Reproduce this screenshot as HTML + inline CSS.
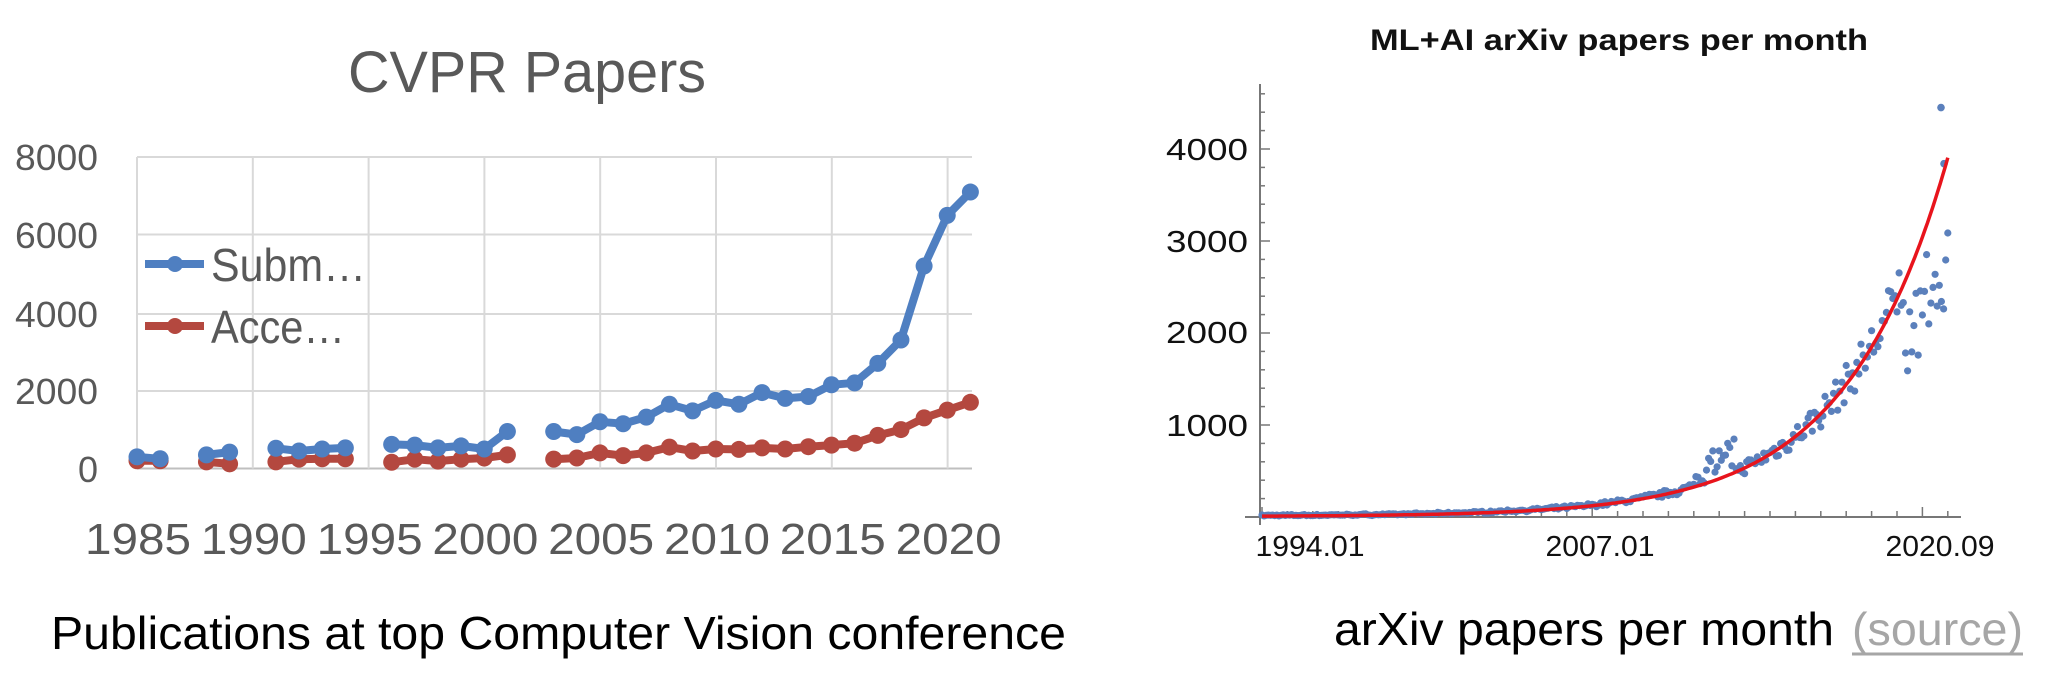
<!DOCTYPE html>
<html><head><meta charset="utf-8">
<style>
html,body{margin:0;padding:0;background:#fff;}
svg{display:block;}
text{font-family:"Liberation Sans",sans-serif;}
</style></head>
<body>
<svg id="s" width="2068" height="690" viewBox="0 0 2068 690" xmlns="http://www.w3.org/2000/svg">
<rect width="2068" height="690" fill="#fff"/>
<text x="527" y="92" font-size="58" fill="#595959" text-anchor="middle" textLength="358" lengthAdjust="spacingAndGlyphs">CVPR Papers</text>
<g id="grid" stroke="#d9d9d9" stroke-width="2"></g>
<g font-size="36" fill="#595959" text-anchor="end">
<text x="98" y="170" textLength="83" lengthAdjust="spacingAndGlyphs">8000</text>
<text x="98" y="248" textLength="83" lengthAdjust="spacingAndGlyphs">6000</text>
<text x="98" y="327" textLength="83" lengthAdjust="spacingAndGlyphs">4000</text>
<text x="98" y="404" textLength="83" lengthAdjust="spacingAndGlyphs">2000</text>
<text x="98" y="482">0</text>
</g>
<g id="xl" font-size="44" fill="#595959" text-anchor="middle"></g>
<g id="series"></g>
<line x1="145" y1="264" x2="204" y2="264" stroke="#4f7fc1" stroke-width="8"/>
<circle cx="175" cy="264" r="8" fill="#4f7fc1"/>
<line x1="145" y1="326" x2="204" y2="326" stroke="#b4483f" stroke-width="8"/>
<circle cx="175" cy="326" r="8" fill="#b4483f"/>
<text x="211" y="281" font-size="46" fill="#595959" textLength="155" lengthAdjust="spacingAndGlyphs">Subm…</text>
<text x="211" y="343" font-size="46" fill="#595959" textLength="134" lengthAdjust="spacingAndGlyphs">Acce…</text>
<text x="51" y="649" font-size="46" fill="#000" textLength="1015" lengthAdjust="spacingAndGlyphs">Publications at top Computer Vision conference</text>

<text x="1619" y="50" font-size="30" font-weight="bold" fill="#111" text-anchor="middle" textLength="498" lengthAdjust="spacingAndGlyphs">ML+AI arXiv papers per month</text>
<g id="rax" stroke="#777" stroke-width="2"></g>
<g font-size="31" fill="#111" text-anchor="end">
<text x="1248" y="160" textLength="82" lengthAdjust="spacingAndGlyphs">4000</text>
<text x="1248" y="252" textLength="82" lengthAdjust="spacingAndGlyphs">3000</text>
<text x="1248" y="343" textLength="82" lengthAdjust="spacingAndGlyphs">2000</text>
<text x="1248" y="436" textLength="82" lengthAdjust="spacingAndGlyphs">1000</text>
</g>
<g font-size="29" fill="#111" text-anchor="middle">
<text x="1310" y="556" textLength="109" lengthAdjust="spacingAndGlyphs">1994.01</text>
<text x="1600" y="556" textLength="109" lengthAdjust="spacingAndGlyphs">2007.01</text>
<text x="1940" y="556" textLength="109" lengthAdjust="spacingAndGlyphs">2020.09</text>
</g>
<g id="pts" fill="#5b80bc"></g>
<path id="fit" fill="none" stroke="#e8141c" stroke-width="3.5"/>
<text x="1334" y="645" font-size="46" fill="#000" textLength="500" lengthAdjust="spacingAndGlyphs">arXiv papers per month</text>
<text x="1852" y="645" font-size="46" fill="#a6a6a6" textLength="171" lengthAdjust="spacingAndGlyphs">(source)</text>
<line x1="1852" y1="654" x2="2023" y2="654" stroke="#a6a6a6" stroke-width="3"/>
</svg>
<script>
var NS="http://www.w3.org/2000/svg";
function el(p,t,a){var e=document.createElementNS(NS,t);for(var k in a)e.setAttribute(k,a[k]);p.appendChild(e);return e;}
var g=document.getElementById('grid');
[157,234.5,314,391].forEach(function(y){el(g,'line',{x1:137,x2:972,y1:y,y2:y});});
el(g,'line',{x1:137,x2:972,y1:468.5,y2:468.5,stroke:'#bfbfbf'});
for(var i=0;i<8;i++){var x=137+i*115.8;el(g,'line',{x1:x,x2:x,y1:157,y2:468.5});}
var xl=document.getElementById('xl');
for(var i=0;i<8;i++){var t=el(xl,'text',{x:138+i*115.8,y:554,textLength:106,lengthAdjust:'spacingAndGlyphs'});t.textContent=1985+5*i;}
function X(yr){return 137+(yr-1985)*23.15;}
function Y(v){return 468.5-v*311.5/8000;}
var data=[[1985,300,200],[1986,250,200],null,[1988,350,170],[1989,420,120],null,[1991,520,170],[1992,450,240],[1993,500,250],[1994,530,250],null,[1996,620,160],[1997,600,240],[1998,530,190],[1999,580,240],[2000,500,270],[2001,950,350],null,[2003,950,240],[2004,870,270],[2005,1200,400],[2006,1150,330],[2007,1320,400],[2008,1650,550],[2009,1480,450],[2010,1750,500],[2011,1650,490],[2012,1950,530],[2013,1800,500],[2014,1850,560],[2015,2150,600],[2016,2200,650],[2017,2700,850],[2018,3300,1000],[2019,5200,1300],[2020,6500,1500],[2021,7100,1700]];
var sg=document.getElementById('series');
[[2,'#b4483f'],[1,'#4f7fc1']].forEach(function(s){
  var segs=[],cur=[];
  data.forEach(function(d){if(!d){if(cur.length)segs.push(cur);cur=[];}else cur.push(d);});
  if(cur.length)segs.push(cur);
  segs.forEach(function(sg2){
    var pts=sg2.map(function(d){return X(d[0]).toFixed(1)+','+Y(d[s[0]]).toFixed(1);}).join(' ');
    el(sg,'polyline',{points:pts,fill:'none',stroke:s[1],'stroke-width':8,'stroke-linejoin':'round'});
    sg2.forEach(function(d){el(sg,'circle',{cx:X(d[0]),cy:Y(d[s[0]]),r:8.5,fill:s[1]});});
  });
});
var ra=document.getElementById('rax');
el(ra,'line',{x1:1260,x2:1260,y1:84,y2:525});
el(ra,'line',{x1:1245,x2:1961,y1:517,y2:517});
for(var v=0;v<=4800;v+=200){var y=517-v*0.092;if(y<84)break;var L=(v%1000==0)?10:5;el(ra,'line',{x1:1260,x2:1260+L,y1:y,y2:y,'stroke-width':1.5});}
function RX(t){return 1262+(t-1994)*25.4;}
function RY(v){return 517-v*0.092;}
for(var t=1994;t<=2021;t++){var x=RX(t);var L=((t-1994)%13==0)?10:6;el(ra,'line',{x1:x,x2:x,y1:517,y2:517-L,'stroke-width':1.5});}
function f(t){return 3900*Math.exp(0.25*(t-2021))+5;}
var d='';for(var t=1994;t<=2021.05;t+=0.1){d+=(d?'L':'M')+RX(t).toFixed(1)+','+RY(f(t)).toFixed(1);}
document.getElementById('fit').setAttribute('d',d);
var seed=7;function rnd(){seed=(seed*16807)%2147483647;return seed/2147483647;}
var pg=document.getElementById('pts');
for(var m=0;m<=27*12;m++){var t=1994+m/12;var v=f(t)*(1+(rnd()-0.5)*0.28)+(rnd()*15);
 if(t>2011&&t<2012.6)v*=1+rnd()*0.7;
 if(t>2019.3)v=f(t)*(0.6+rnd()*0.3);
 el(pg,'circle',{cx:RX(t).toFixed(1),cy:RY(v).toFixed(1),r:3.6});}
el(pg,'circle',{cx:1941,cy:RY(4450),r:3.8});
el(pg,'circle',{cx:1944,cy:RY(3840),r:3.8});
</script>
</body></html>
